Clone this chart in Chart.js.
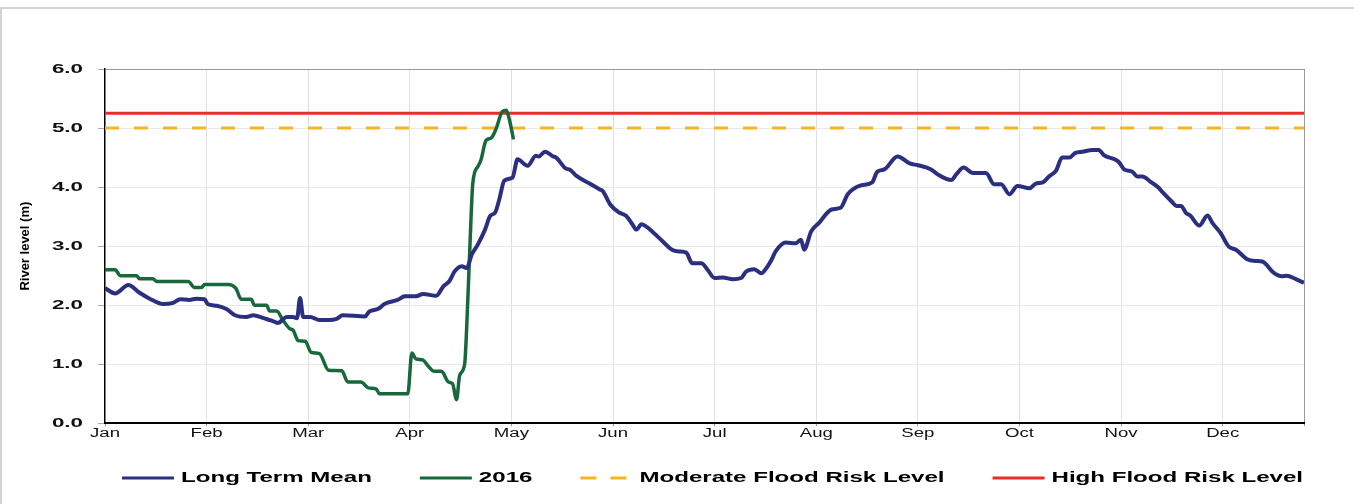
<!DOCTYPE html>
<html>
<head>
<meta charset="utf-8">
<title>River level</title>
<script src="https://cdn.jsdelivr.net/npm/chart.js@4.4.1/dist/chart.umd.min.js"></script>
<style>
  html, body { margin: 0; background: #fff; }
  #wrap { position: relative; width: 1354px; height: 504px; overflow: hidden; }
  #frame { position: absolute; left: 0; top: 7px; right: 0; bottom: 0; border-top: 2px solid #d2d2d2; border-left: 2px solid #d2d2d2; }
  #chart { position: absolute; left: 0; top: 0; }
</style>
</head>
<body>
<div id="wrap"><div id="frame"></div><canvas id="chart" width="1354" height="504"></canvas></div>
<script>
(function () {
  'use strict';

  var MONTHS = ['Jan', 'Feb', 'Mar', 'Apr', 'May', 'Jun', 'Jul', 'Aug', 'Sep', 'Oct', 'Nov', 'Dec'];
  var X_END = 11.8; // axis stops a little before the end of December

  // x is in months from 1 Jan (each month one equal step on the axis)
  var MEAN_MONTH = [0, 0.1, 0.23, 0.34, 0.44, 0.57, 0.67, 0.74, 0.83, 0.9, 0.98, 1.01, 1.1, 1.2, 1.28, 1.39, 1.46, 1.56, 1.64, 1.7,
    1.79, 1.85, 1.89, 1.92, 1.95, 2.02, 2.11, 2.2, 2.28, 2.34, 2.56, 2.6, 2.69, 2.75, 2.88, 2.95, 3.06, 3.13, 3.26, 3.33,
    3.39, 3.44, 3.51, 3.56, 3.61, 3.67, 3.74, 3.79, 3.84, 3.88, 3.93, 4.01, 4.06, 4.16, 4.24, 4.27, 4.33, 4.41, 4.44, 4.54,
    4.57, 4.64, 4.77, 4.87, 4.9, 4.97, 5.06, 5.13, 5.19, 5.23, 5.28, 5.32, 5.39, 5.49, 5.58, 5.65, 5.72, 5.78, 5.87, 5.93,
    6, 6.08, 6.18, 6.26, 6.31, 6.39, 6.46, 6.51, 6.56, 6.6, 6.7, 6.8, 6.85, 6.88, 6.95, 7.03, 7.15, 7.24, 7.31, 7.44,
    7.55, 7.6, 7.67, 7.8, 7.92, 8, 8.13, 8.19, 8.33, 8.38, 8.45, 8.54, 8.67, 8.75, 8.82, 8.9, 8.98, 9.1, 9.16, 9.23,
    9.29, 9.36, 9.42, 9.49, 9.55, 9.62, 9.72, 9.78, 9.83, 9.95, 9.98, 10.03, 10.11, 10.16, 10.21, 10.29, 10.37, 10.41, 10.49, 10.55,
    10.59, 10.64, 10.68, 10.77, 10.85, 10.9, 10.98, 11.06, 11.13, 11.24, 11.32, 11.39, 11.5, 11.58, 11.63, 11.72, 11.8];
  var MEAN_LEVEL = [2.29, 2.2, 2.34, 2.21, 2.11, 2.02, 2.04, 2.1, 2.09, 2.11, 2.1, 2.02, 1.99, 1.93, 1.83, 1.8, 1.83, 1.78, 1.74, 1.7,
    1.8, 1.8, 1.78, 2.12, 1.8, 1.8, 1.75, 1.75, 1.77, 1.83, 1.81, 1.89, 1.94, 2.02, 2.09, 2.15, 2.15, 2.19, 2.16, 2.32,
    2.41, 2.57, 2.66, 2.63, 2.86, 3.03, 3.28, 3.51, 3.57, 3.79, 4.11, 4.16, 4.47, 4.36, 4.53, 4.52, 4.6, 4.52, 4.5, 4.31,
    4.3, 4.19, 4.06, 3.96, 3.93, 3.71, 3.57, 3.51, 3.37, 3.28, 3.37, 3.34, 3.24, 3.08, 2.94, 2.91, 2.89, 2.71, 2.71, 2.6,
    2.46, 2.47, 2.44, 2.46, 2.57, 2.61, 2.54, 2.63, 2.77, 2.91, 3.06, 3.05, 3.11, 2.94, 3.25, 3.4, 3.62, 3.65, 3.88, 4.03,
    4.08, 4.26, 4.3, 4.52, 4.4, 4.37, 4.3, 4.22, 4.12, 4.22, 4.33, 4.24, 4.24, 4.05, 4.05, 3.88, 4.02, 3.98, 4.06, 4.08,
    4.18, 4.28, 4.5, 4.5, 4.58, 4.6, 4.63, 4.63, 4.54, 4.46, 4.42, 4.3, 4.26, 4.18, 4.18, 4.09, 3.99, 3.91, 3.77, 3.68,
    3.68, 3.56, 3.52, 3.35, 3.52, 3.39, 3.22, 2.99, 2.94, 2.78, 2.75, 2.74, 2.55, 2.49, 2.5, 2.44, 2.38];

  var Y2016_MONTH = [0, 0.1, 0.15, 0.31, 0.34, 0.47, 0.51, 0.82, 0.88, 0.95, 0.98, 1.21, 1.29, 1.34, 1.44, 1.47, 1.59, 1.62, 1.69, 1.75,
    1.82, 1.85, 1.9, 1.97, 2.03, 2.11, 2.2, 2.33, 2.39, 2.52, 2.59, 2.67, 2.7, 2.98, 3.02, 3.06, 3.13, 3.18, 3.24, 3.31,
    3.38, 3.42, 3.46, 3.49, 3.54, 3.56, 3.59, 3.62, 3.67, 3.7, 3.75, 3.8, 3.85, 3.91, 3.95, 3.98, 4.02];
  var Y2016_LEVEL = [2.6, 2.6, 2.5, 2.5, 2.45, 2.45, 2.4, 2.4, 2.3, 2.3, 2.35, 2.35, 2.28, 2.1, 2.1, 2, 2, 1.9, 1.9, 1.75,
    1.6, 1.58, 1.4, 1.39, 1.2, 1.18, 0.9, 0.89, 0.7, 0.7, 0.6, 0.58, 0.5, 0.5, 1.19, 1.09, 1.07, 0.97, 0.88, 0.88,
    0.7, 0.67, 0.4, 0.81, 1.01, 1.64, 2.94, 4.07, 4.35, 4.46, 4.79, 4.83, 4.99, 5.28, 5.3, 5.14, 4.81];

  var MODERATE_LEVEL = 5.0;
  var HIGH_LEVEL = 5.25;

  var BLUE = '#2B2F7F';
  var GREEN = '#17683A';
  var ORANGE = '#F7B520';
  var RED = '#EE2B2B';

  var LEGEND_PAD = 48;

  function points(xs, ys) {
    return xs.map(function (x, i) { return {x: x, y: ys[i]}; });
  }

  function level(value) {
    return [{x: 0, y: value}, {x: X_END, y: value}];
  }

  // the original draws its tick labels and legend horizontally widened;
  // rotated text (the axis title) is left as it is
  var wideText = {
    id: 'wideText',
    beforeInit: function (chart) {
      var ctx = chart.ctx;
      var fill = ctx.fillText;
      var measure = ctx.measureText;
      function stretch() {
        var t = ctx.getTransform();
        if (Math.abs(t.b) > 0.01) return 1;
        return /bold|[6-9]00/.test(ctx.font) ? 1.72 : 1.55;
      }
      ctx.fillText = function (text, x, y) {
        var s = stretch();
        ctx.save();
        ctx.translate(x, y);
        ctx.scale(s, 1);
        fill.call(ctx, text, 0, 0);
        ctx.restore();
      };
      ctx.measureText = function (text) {
        var m = measure.call(ctx, text);
        return {width: m.width * stretch(), actualBoundingBoxAscent: m.actualBoundingBoxAscent, actualBoundingBoxDescent: m.actualBoundingBoxDescent};
      };
    }
  };

  var legendPlace = {
    id: 'legendPlace',
    afterLayout: function (chart) {
      chart.legend.left = 122 - LEGEND_PAD;
      chart.legend.top = 479 - LEGEND_PAD - 8;
    }
  };

  // legend samples are flat boxes (height 0) so only the stroke shows;
  // the dash runs along the top edge then back along the bottom, hence the long gap
  function legendLabels(chart) {
    return Chart.defaults.plugins.legend.labels.generateLabels(chart).map(function (item) {
      item.lineWidth = 3;
      item.lineDash = item.lineDash && item.lineDash.length ? [16, 14, 16, 58] : [];
      return item;
    });
  }

  Chart.defaults.font.family = "'Liberation Sans', Arial, sans-serif";
  Chart.defaults.color = '#111';

  new Chart(document.getElementById('chart'), {
    type: 'line',
    data: {
      datasets: [
        {label: 'Long Term Mean', data: points(MEAN_MONTH, MEAN_LEVEL), borderColor: BLUE, backgroundColor: BLUE, borderWidth: 4, cubicInterpolationMode: 'monotone'},
        {label: '2016', data: points(Y2016_MONTH, Y2016_LEVEL), borderColor: GREEN, backgroundColor: GREEN, borderWidth: 3.5, cubicInterpolationMode: 'monotone'},
        {label: 'Moderate Flood Risk Level', data: level(MODERATE_LEVEL), borderColor: ORANGE, backgroundColor: ORANGE, borderWidth: 3, borderDash: [14, 15]},
        {label: 'High Flood Risk Level', data: level(HIGH_LEVEL), borderColor: RED, backgroundColor: RED, borderWidth: 3}
      ]
    },
    options: {
      responsive: false,
      animation: false,
      elements: {point: {radius: 0, hoverRadius: 0}},
      layout: {padding: {top: 69, right: 0, left: 0, bottom: 0}},
      plugins: {
        tooltip: {enabled: false},
        legend: {
          position: 'bottom',
          align: 'start',
          maxHeight: 50,
          labels: {boxWidth: 52, boxHeight: 0, padding: LEGEND_PAD, color: '#000', font: {size: 14, weight: 'bold'}, generateLabels: legendLabels}
        }
      },
      scales: {
        x: {
          type: 'linear',
          min: 0,
          max: X_END,
          afterBuildTicks: function (scale) {
            scale.ticks = MONTHS.map(function (m, i) { return {value: i}; }).concat([{value: X_END}]);
          },
          afterFit: function (scale) { scale.height = 30.7; },
          ticks: {autoSkip: false, maxRotation: 0, padding: 0, font: {size: 12}, callback: function (value) { return MONTHS[value] || ''; }},
          grid: {
            tickLength: 3,
            tickColor: '#999',
            color: function (ctx) {
              if (!ctx.tick || ctx.tick.value === 0) return 'rgba(0,0,0,0)';
              return ctx.tick.value === X_END ? '#9a9a9a' : '#e0e0e0';
            }
          },
          border: {color: '#000', width: 2}
        },
        y: {
          min: 0,
          max: 6,
          afterFit: function (scale) { scale.width = 105; },
          ticks: {stepSize: 1, padding: 15, font: {size: 13, weight: 'bold'}, callback: function (value) { return value.toFixed(1); }},
          grid: {
            tickLength: 7,
            tickColor: '#aaa',
            color: function (ctx) { return ctx.tick && ctx.tick.value === 6 ? '#9a9a9a' : '#e8e8e8'; }
          },
          border: {color: '#000', width: 1.5},
          title: {display: true, text: 'River level (m)', color: '#000', padding: {top: 18, bottom: 0}, font: {size: 13, weight: 'bold'}}
        },
        // empty right-hand axis that only reserves the margin right of the plot
        yRight: {
          position: 'right',
          afterFit: function (scale) { scale.width = 50; },
          ticks: {display: false},
          grid: {display: false},
          border: {display: false}
        }
      }
    },
    plugins: [wideText, legendPlace]
  });
}());
</script>
</body>
</html>
